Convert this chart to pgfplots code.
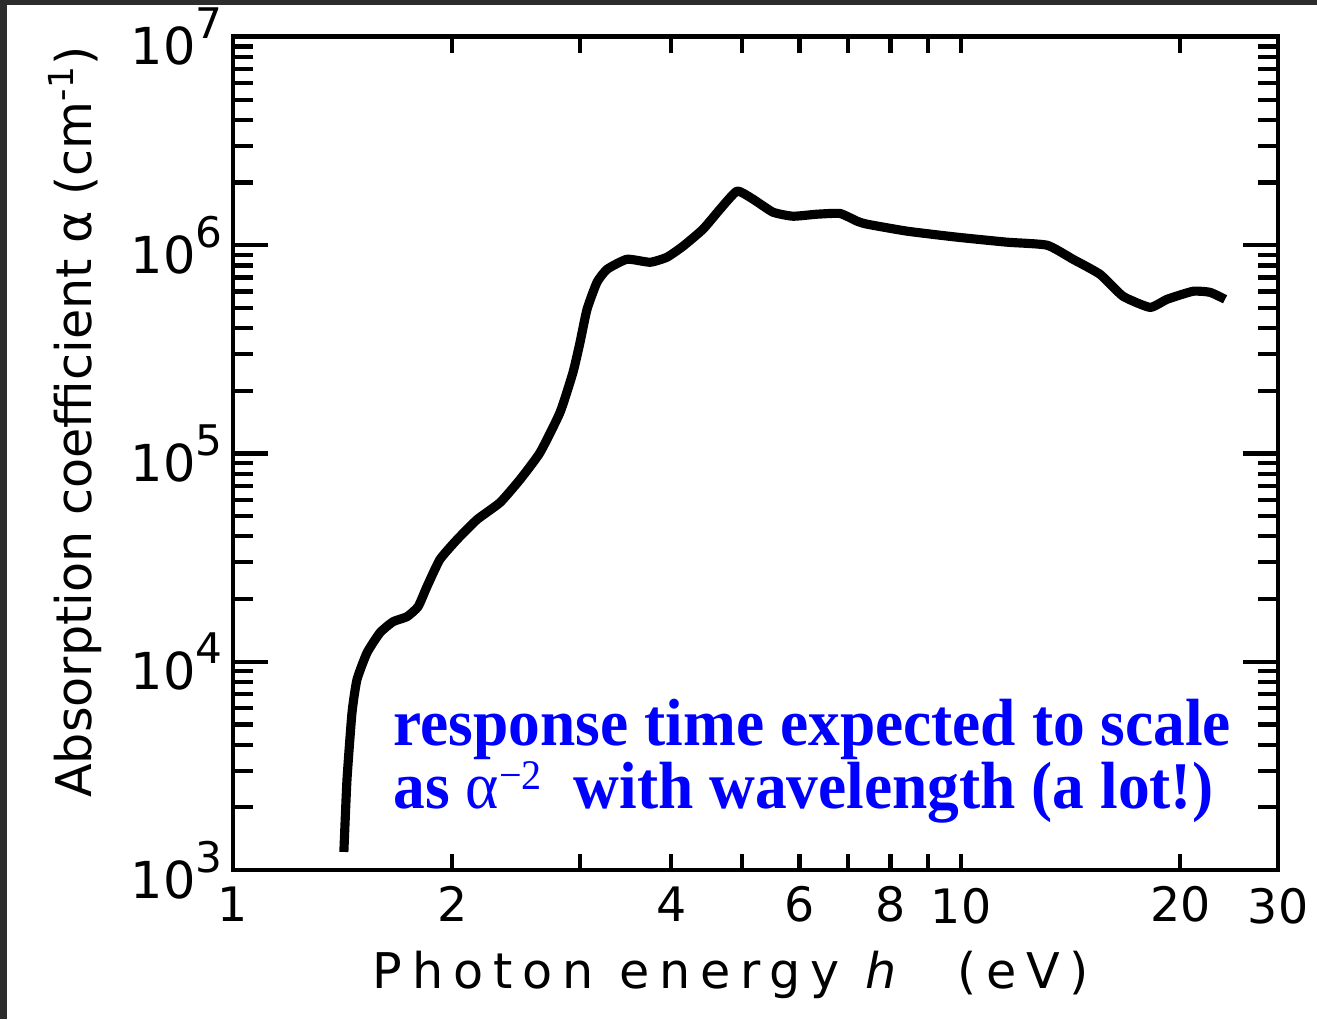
\documentclass[border=0pt]{standalone}
\usepackage{fontspec}
\setmainfont{DejaVu Sans}
\newfontfamily\bluefont[FakeStretch=0.95]{Liberation Serif}
\newfontfamily\spacedfont[LetterSpace=20]{DejaVu Sans}
\usepackage{pgfplots}
\pgfplotsset{compat=1.18}
\definecolor{framegray}{RGB}{45,45,45}
\newcommand\tp[1]{10\raisebox{2.6mm}{\fontsize{12}{12}\selectfont #1}}
\pgfplotstableread{
x y
1.420 1221
1.434 2709
1.457 5686
1.480 8193
1.528 11050
1.592 13790
1.659 15570
1.734 16460
1.796 18390
1.847 22940
1.924 30940
2.031 38590
2.164 48160
2.327 58130
2.479 74990
2.641 101100
2.813 157400
2.931 245100
2.997 341700
3.064 492500
3.162 664000
3.265 766500
3.477 856300
3.740 828300
3.946 875800
4.151 989000
4.422 1194000
4.667 1490000
4.924 1818000
5.179 1664000
5.517 1441000
5.877 1378000
6.342 1409000
6.820 1420000
7.200 1304000
7.428 1262000
8.432 1168000
9.874 1093000
11.57 1034000
13.13 1000000
14.25 856000
15.52 725000
16.69 569000
18.18 503000
19.19 550000
20.83 601000
21.98 594000
23.05 550000
}\datatable
\begin{document}
\begin{tikzpicture}
\useasboundingbox (0,0) rectangle (131.7mm,101.9mm);
\fill[framegray] (0,101.4mm) rectangle (131.7mm,101.9mm);
\fill[framegray] (0,0) rectangle (0.7mm,101.9mm);
\begin{axis}[
  at={(23.3mm,14.9mm)}, anchor=south west,
  scale only axis, width=104.5mm, height=83.3mm,
  xmode=log, ymode=log,
  xmin=1, xmax=27.25, ymin=1e3, ymax=1e7,
  axis line style={line width=1.4pt, black},
  tick align=inside,
  tick style={black},
  xtick={1,2,3,4,5,6,7,8,9,20},
  xticklabels={1,2,,4,,6,,8,,20},
  extra x ticks={10,27.25},
  extra x tick labels={10,30},
  extra x tick style={/pgfplots/major tick length=3mm, black, line width=1.2pt},
  xminorticks=false,
  xtick style={black, line width=1.2pt, /pgfplots/major tick length=1.6mm},
  ytick={1e3,1e4,1e5,1e6,1e7},
  yticklabels={\tp{3},\tp{4},\tp{5},\tp{6},\tp{7}},
  ytick style={black, line width=1.2pt},
  major tick length=3.5mm, minor tick length=2mm,
  minor tick style={black, line width=1.1pt},
  xticklabel style={font=\fontsize{13.5}{14}\selectfont, yshift=-0.4mm},
  yticklabel style={font=\fontsize{14.5}{15}\selectfont, inner sep=1mm},
  xlabel={\spacedfont Photon energy \textit{h}\ \ (eV)},
  xlabel style={font=\fontsize{14}{15}\selectfont, at={(axis description cs:0.4766,-0.1417)}, anchor=base},
  ylabel={Absorption coefficient α (cm\textsuperscript{-1})},
  ylabel style={font=\fontsize{14}{15}\selectfont, at={(axis description cs:-0.151,0.538)}, anchor=center},
]
\addplot[black, line width=2.6pt, smooth, tension=0.3, line join=round] table[x=x,y=y] {\datatable};
\end{axis}
\node[anchor=base west, inner sep=0pt, text=blue, font=\bluefont\bfseries\fontsize{19}{19}\selectfont] at (39.3mm,27.4mm) {response time expected to scale};
\node[anchor=base west, inner sep=0pt, text=blue, font=\bluefont\bfseries\fontsize{19}{19}\selectfont] at (39.3mm,21.1mm) {as {\mdseries α\raisebox{1.9mm}{\fontsize{12}{12}\selectfont −2}}\ \ with wavelength (a lot!)};
\end{tikzpicture}
\end{document}
